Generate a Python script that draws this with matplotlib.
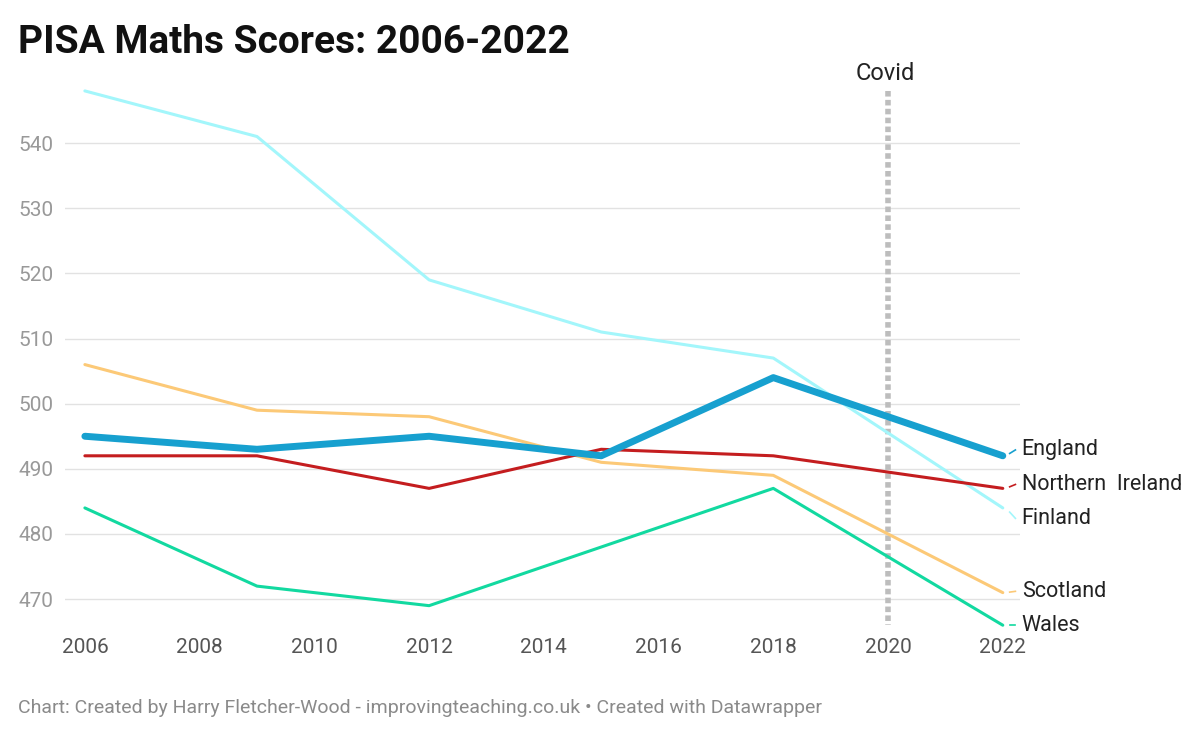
import matplotlib.pyplot as plt

plt.rcParams["font.family"] = ["Roboto", "DejaVu Sans"]

years = [2006, 2009, 2012, 2015, 2018, 2022]
finland = [548, 541, 519, 511, 507, 484]
england = [495, 493, 495, 492, 504, 492]
northern_ireland = [492, 492, 487, 493, 492, 487]
scotland = [506, 499, 498, 491, 489, 471]
wales = [484, 472, 469, 478, 487, 466]

series = [
    ("Finland", finland, "#a3f6fb", 2.2, 482.4),
    ("Scotland", scotland, "#fcc977", 2.2, 471.2),
    ("Wales", wales, "#12d9a0", 2.2, 466.0),
    ("Northern  Ireland", northern_ireland, "#c41d1f", 2.2, 487.6),
    ("England", england, "#17a0cf", 5.0, 492.9),
]

fig = plt.figure(figsize=(12, 7.37), dpi=100)
ax = fig.add_axes([0.054, 0.134, 0.796, 0.778])

for yv in range(470, 550, 10):
    ax.axhline(yv, color="#e2e2e2", lw=1, zorder=0)

ax.plot([2020, 2020], [548, 466], color="#bdbdbd", lw=4,
        linestyle=(0, (1, 0.6)), zorder=1)
ax.text(2019.95, 550.6, "Covid", ha="center", va="center", fontsize=17,
        color="#222222")

for name, vals, color, lw, label_y in series:
    ax.plot(years, vals, color=color, lw=lw, solid_capstyle="round", zorder=3)
    ax.plot([2022.12, 2022.22], [vals[-1] + (label_y - vals[-1]) * 0.4, label_y],
            color=color, lw=1.2, zorder=3)
    ax.text(2022.33, label_y, name, ha="left", va="center", fontsize=15.5,
            color="#222222")

ax.set_xlim(2005.65, 2022.3)
ax.set_ylim(464, 552)
ax.set_xticks(range(2006, 2023, 2))
ax.set_yticks(range(470, 550, 10))
ax.tick_params(axis="both", length=0)
ax.tick_params(axis="x", labelsize=15, labelcolor="#555555", pad=0)
ax.tick_params(axis="y", labelsize=15, labelcolor="#999999", pad=8)
for s in ax.spines.values():
    s.set_visible(False)

fig.text(0.015, 0.942, "PISA Maths Scores: 2006-2022", fontsize=28,
         fontweight="bold", color="#111111", va="center")
fig.text(0.015, 0.04, "Chart: Created by Harry Fletcher-Wood - improvingteaching.co.uk \u2022 Created with Datawrapper",
         fontsize=14, color="#8a8a8a", va="center")

fig.savefig("out.png", dpi=100)
